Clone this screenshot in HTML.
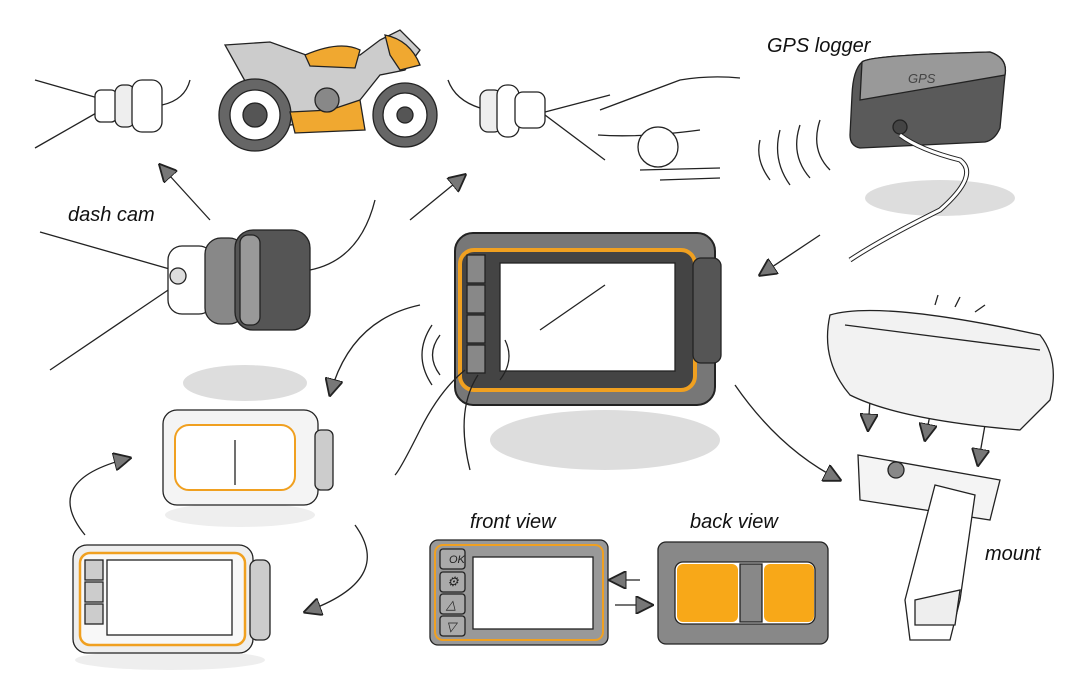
<!DOCTYPE html>
<html><head><meta charset="utf-8"><style>
html,body{margin:0;padding:0;background:#fff;width:1080px;height:675px;overflow:hidden}
text{font-family:"Liberation Sans",sans-serif;font-style:italic}
</style></head><body>
<svg width="1080" height="675" viewBox="0 0 1080 675" xmlns="http://www.w3.org/2000/svg">
<defs>
<marker id="ah" viewBox="0 0 10 10" refX="9" refY="5" markerWidth="14" markerHeight="14" orient="auto"><path d="M0,0 L10,5 L0,10 Z" fill="#777" stroke="#222" stroke-width="1"/></marker>
</defs>
<g stroke="#222" fill="none" stroke-width="1.3">
<!-- shadows -->
<ellipse cx="245" cy="383" rx="62" ry="18" fill="#ddd" stroke="none"/>
<ellipse cx="605" cy="440" rx="115" ry="30" fill="#ddd" stroke="none"/>
<ellipse cx="940" cy="198" rx="75" ry="18" fill="#ddd" stroke="none"/>
<ellipse cx="240" cy="515" rx="75" ry="12" fill="#eee" stroke="none"/>
<ellipse cx="170" cy="660" rx="95" ry="10" fill="#eee" stroke="none"/>

<!-- top left small camera -->
<line x1="35" y1="80" x2="105" y2="100"/><line x1="35" y1="148" x2="105" y2="108"/>
<rect x="95" y="90" width="22" height="32" rx="6" fill="#fff"/>
<rect x="115" y="85" width="20" height="42" rx="8" fill="#eee"/>
<rect x="132" y="80" width="30" height="52" rx="10" fill="#fff"/>
<path d="M162 105 Q185 100 190 80"/>
<!-- motorcycle -->
<path d="M225 45 L270 42 L320 60 L360 55 L380 40 L400 30 L420 50 L405 70 L380 75 L360 100 L330 120 L290 125 L280 110 L250 90 Z" fill="#ccc"/>
<circle cx="255" cy="115" r="36" fill="#666"/><circle cx="255" cy="115" r="25" fill="#fff"/><circle cx="255" cy="115" r="12" fill="#555"/>
<circle cx="405" cy="115" r="32" fill="#666"/><circle cx="405" cy="115" r="22" fill="#fff"/><circle cx="405" cy="115" r="8" fill="#555"/>
<path d="M305 55 Q340 40 360 50 L355 68 L310 66 Z" fill="#f0a830"/>
<path d="M385 35 Q410 40 420 65 L400 70 L390 55 Z" fill="#f0a830"/>
<path d="M290 112 L330 110 L360 100 L365 130 L295 133 Z" fill="#f0a830"/>
<circle cx="327" cy="100" r="12" fill="#888"/>
<!-- top right camera -->
<rect x="480" y="90" width="22" height="42" rx="8" fill="#eee"/>
<rect x="497" y="85" width="22" height="52" rx="10" fill="#fff"/>
<rect x="515" y="92" width="30" height="36" rx="8" fill="#fff"/>
<line x1="545" y1="112" x2="610" y2="95"/><line x1="545" y1="115" x2="605" y2="160"/>
<path d="M480 108 Q455 100 448 80"/>
<!-- car -->
<path d="M600 110 Q640 95 680 80 Q710 75 740 78 M598 135 Q640 138 700 130"/>
<circle cx="658" cy="147" r="20" fill="#fff"/>
<line x1="640" y1="170" x2="720" y2="168"/><line x1="660" y1="180" x2="720" y2="178"/>
<path d="M760 140 Q755 160 770 180 M780 130 Q772 160 790 185 M800 125 Q790 155 810 178 M820 120 Q810 150 830 170"/>
<!-- GPS -->
<path d="M862 62 Q870 55 990 52 Q1008 58 1005 75 L1000 128 Q995 140 985 142 L860 148 Q850 146 850 135 L852 95 Q853 70 862 62 Z" fill="#5a5a5a"/>
<path d="M862 62 Q870 55 990 52 Q1008 58 1005 75 L860 100 Z" fill="#999"/>
<circle cx="900" cy="127" r="7" fill="#444"/>
<path d="M900 135 Q920 150 960 160 Q980 175 940 210 Q880 240 850 260" stroke-width="5" stroke="#222"/>
<path d="M900 135 Q920 150 960 160 Q980 175 940 210 Q880 240 850 260" stroke-width="3" stroke="#fff"/>
<!-- big dash cam -->
<line x1="40" y1="232" x2="180" y2="272"/><line x1="50" y1="370" x2="180" y2="282"/>
<rect x="168" y="246" width="45" height="68" rx="14" fill="#fff"/>
<circle cx="178" cy="276" r="8" fill="#ddd"/>
<rect x="205" y="238" width="40" height="86" rx="16" fill="#888"/>
<rect x="235" y="230" width="75" height="100" rx="18" fill="#555"/>
<rect x="240" y="235" width="20" height="90" rx="8" fill="#999"/>
<path d="M310 270 Q360 260 375 200"/>
<!-- arrows -->
<line x1="210" y1="220" x2="160" y2="165" marker-end="url(#ah)"/>
<line x1="410" y1="220" x2="465" y2="175" marker-end="url(#ah)"/>
<line x1="820" y1="235" x2="760" y2="275" marker-end="url(#ah)"/>
<path d="M420 305 Q350 320 330 395" marker-end="url(#ah)"/>
<path d="M735 385 Q780 450 840 480" marker-end="url(#ah)"/>
<path d="M85 535 Q40 480 130 458" marker-end="url(#ah)"/>
<path d="M355 525 Q395 580 305 612" marker-end="url(#ah)"/>
<line x1="640" y1="580" x2="610" y2="580" marker-end="url(#ah)"/>
<line x1="615" y1="605" x2="652" y2="605" marker-end="url(#ah)"/>
<line x1="870" y1="400" x2="868" y2="430" marker-end="url(#ah)"/>
<line x1="930" y1="415" x2="925" y2="440" marker-end="url(#ah)"/>
<line x1="985" y1="425" x2="978" y2="465" marker-end="url(#ah)"/>
<!-- central device -->
<rect x="455" y="233" width="260" height="172" rx="18" fill="#777" stroke-width="2"/>
<rect x="460" y="250" width="235" height="140" rx="14" fill="#444" stroke="#f0a020" stroke-width="4"/>
<rect x="500" y="263" width="175" height="108" fill="#fff"/>
<rect x="467" y="255" width="18" height="28" fill="#888"/><rect x="467" y="285" width="18" height="28" fill="#888"/>
<rect x="467" y="315" width="18" height="28" fill="#888"/><rect x="467" y="345" width="18" height="28" fill="#888"/>
<rect x="693" y="258" width="28" height="105" rx="8" fill="#555"/>
<line x1="540" y1="330" x2="605" y2="285"/>
<path d="M440 335 Q425 355 440 375 M432 325 Q412 355 432 385 M505 340 Q515 360 500 380"/>
<path d="M465 370 Q440 390 420 430 Q400 470 395 475 M478 375 Q455 410 470 470"/>
<!-- mount -->
<path d="M830 315 Q880 300 1040 335 Q1060 360 1050 400 L1020 430 Q900 420 850 395 Q820 360 830 315 Z" fill="#f2f2f2"/>
<path d="M845 325 L1040 350" />
<line x1="935" y1="305" x2="938" y2="295"/><line x1="955" y1="307" x2="960" y2="297"/><line x1="975" y1="312" x2="985" y2="305"/>
<path d="M858 455 L1000 480 L990 520 L860 500 Z" fill="#f4f4f4"/>
<circle cx="896" cy="470" r="8" fill="#888"/>
<path d="M935 485 L975 495 L960 600 L950 640 L910 640 L905 600 Z" fill="#fff"/>
<path d="M915 600 L960 590 L955 625 L915 625 Z" fill="#eee"/>
<!-- small device 1 -->
<rect x="163" y="410" width="155" height="95" rx="14" fill="#f4f4f4"/>
<rect x="175" y="425" width="120" height="65" rx="14" fill="#fff" stroke="#f0a020" stroke-width="2"/>
<line x1="235" y1="440" x2="235" y2="485"/>
<rect x="315" y="430" width="18" height="60" rx="6" fill="#ccc"/>
<!-- small device 2 -->
<rect x="73" y="545" width="180" height="108" rx="14" fill="#eee"/>
<rect x="80" y="553" width="165" height="92" rx="10" fill="#f8f8f8" stroke="#f0a020" stroke-width="2.5"/>
<rect x="107" y="560" width="125" height="75" fill="#fff"/>
<rect x="85" y="560" width="18" height="20" fill="#ccc"/><rect x="85" y="582" width="18" height="20" fill="#ccc"/><rect x="85" y="604" width="18" height="20" fill="#ccc"/>
<rect x="250" y="560" width="20" height="80" rx="7" fill="#ccc"/>
<!-- front view -->
<rect x="430" y="540" width="178" height="105" rx="8" fill="#999"/>
<rect x="435" y="545" width="168" height="95" rx="8" fill="#999" stroke="#f0a020" stroke-width="2"/>
<rect x="473" y="557" width="120" height="72" fill="#fff"/>
<rect x="440" y="549" width="25" height="20" rx="3" fill="#aaa"/><rect x="440" y="572" width="25" height="20" rx="3" fill="#aaa"/>
<rect x="440" y="594" width="25" height="20" rx="3" fill="#aaa"/><rect x="440" y="616" width="25" height="20" rx="3" fill="#aaa"/>
<!-- back view -->
<rect x="658" y="542" width="170" height="102" rx="8" fill="#888"/>
<rect x="675" y="562" width="140" height="62" rx="8" fill="#fff"/>
<rect x="677" y="564" width="61" height="58" rx="6" fill="#f8a818" stroke="none"/>
<rect x="764" y="564" width="50" height="58" rx="6" fill="#f8a818" stroke="none"/>
<rect x="740" y="564" width="22" height="58" fill="#888"/>
</g>
<g fill="#222" font-size="13">
<text x="449" y="563" font-style="normal" font-size="11">OK</text>
<text x="447" y="586" font-style="normal">⚙</text>
<text x="446" y="609" font-style="normal">△</text>
<text x="446" y="631" font-style="normal">▽</text>
</g>
<g fill="#111" font-size="20">
<text x="68" y="221">dash cam</text>
<text x="767" y="52">GPS logger</text>
<text x="470" y="528">front view</text>
<text x="690" y="528">back view</text>
<text x="985" y="560">mount</text>
<text x="908" y="83" font-size="13" fill="#444">GPS</text>
</g>
</svg>
</body></html>
